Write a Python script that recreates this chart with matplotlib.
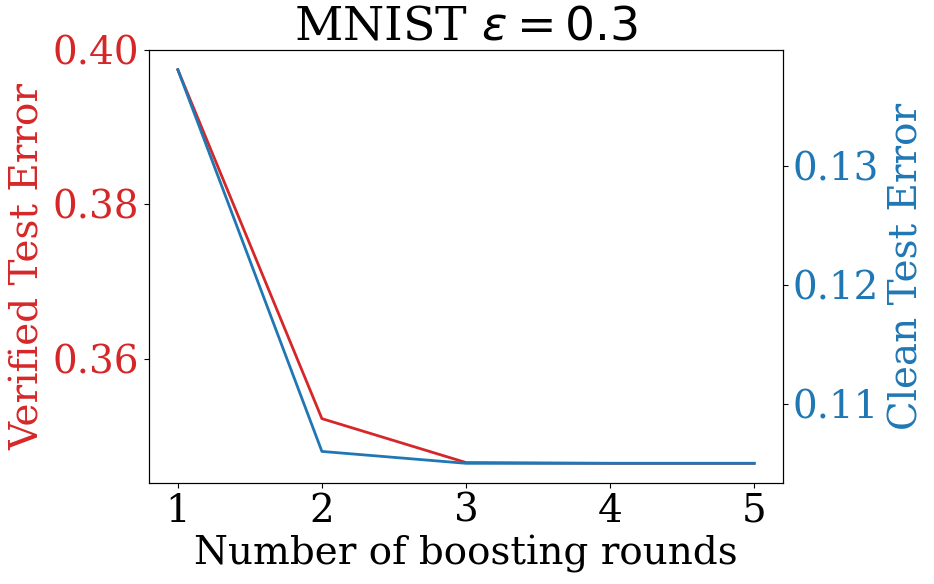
import matplotlib
matplotlib.use("Agg")
import matplotlib.pyplot as plt

rounds = [1, 2, 3, 4, 5]
verified_err = [0.3975, 0.3522, 0.3465, 0.3464, 0.3464]
clean_err = [0.1381, 0.1060, 0.1050, 0.1050, 0.1050]

plt.rcParams['font.family'] = 'DejaVu Serif'
plt.rcParams['mathtext.fontset'] = 'dejavusans'

fig, ax1 = plt.subplots(figsize=(9.34, 5.84), dpi=100)
fig.subplots_adjust(left=149/934, right=783/934, top=1-50/584, bottom=1-483/584)

red = 'tab:red'
blue = 'tab:blue'
ax1.plot(rounds, verified_err, color=red, lw=2)
ax1.set_xlabel('Number of boosting rounds', fontsize=28, labelpad=4)
ax1.set_ylabel('Verified Test Error', color=red, fontsize=28)
ax1.tick_params(axis='y', labelcolor=red, labelsize=28)
ax1.tick_params(axis='x', labelsize=28)
ax1.set_xticks(rounds)
ax1.set_yticks([0.36, 0.38, 0.40])

ax2 = ax1.twinx()
ax2.plot(rounds, clean_err, color=blue, lw=2)
ax2.set_ylabel('Clean Test Error', color=blue, fontsize=28, labelpad=7)
ax2.tick_params(axis='y', labelcolor=blue, labelsize=28)
ax2.set_yticks([0.11, 0.12, 0.13])

ax1.set_title(r'MNIST $\epsilon = 0.3$', fontsize=34)

fig.savefig('out.png', dpi=100)
